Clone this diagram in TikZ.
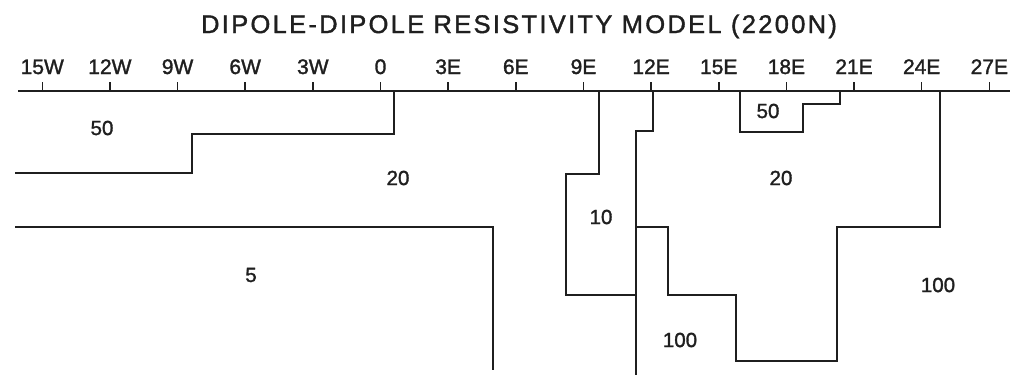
\documentclass[tikz,border=0pt]{standalone}
\usepackage{fontspec}
\setmainfont[FakeBold=1.5]{Liberation Sans}
\newfontfamily\titlefont[LetterSpace=9,FakeBold=1.5]{Liberation Sans}
\definecolor{ink}{gray}{0.12}
\begin{document}
\begin{tikzpicture}[x=1pt,y=-1pt,
  bound/.style={draw=ink, line width=1.5pt, line join=miter},
  lbl/.style={font=\fontsize{20.5}{21}\selectfont, text=ink, inner sep=0pt},
  ticklbl/.style={font=\fontsize{21}{21}\selectfont, text=ink, inner sep=0pt, anchor=base}]
\useasboundingbox (0,0) rectangle (1011,375);
\node[font=\titlefont\fontsize{25.5}{26}\selectfont, text=ink, anchor=base, inner sep=0pt] (title) at (519,33) {DIPOLE-DIPOLE RESISTIVITY MODEL (2200N)};
% axis
\coordinate (axL) at (18,91);
\coordinate (axR) at (1010,91);
\draw[bound] (axL) -- (axR);
\foreach \k/\t [count=\i] in {-15/15W,-12/12W,-9/9W,-6/6W,-3/3W,0/0,3/3E,6/6E,9/9E,12/12E,15/15E,18/18E,21/21E,24/24E,27/27E}{
  \coordinate (t\i) at ({380.5+\k*22.55},91);
  \draw[bound] (t\i) -- ++(0,-9);
  \node[ticklbl] (tl\i) at ({380.5+\k*22.55},74) {\t};
}
% boundaries
\draw[bound] (394,91) -- (394,134) -- (192,134) -- (192,173) -- (15,173);
\draw[bound] (15,227) -- (493,227) -- (493,370);
\draw[bound] (599,91) -- (599,174) -- (566,174) -- (566,295) -- (635,295);
\draw[bound] (653,91) -- (653,131) -- (636,131) -- (636,375);
\draw[bound] (636,227) -- (668,227) -- (668,295) -- (736,295) -- (736,361) -- (837,361) -- (837,227) -- (940,227) -- (940,91);
\draw[bound] (740,91) -- (740,132) -- (803,132) -- (803,104) -- (840,104) -- (840,91);
% resistivity labels
\node[lbl] (r1) at (102,128) {50};
\node[lbl] (r2) at (398,178) {20};
\node[lbl] (r3) at (251,275) {5};
\node[lbl] (r4) at (601,217) {10};
\node[lbl] (r5) at (781,178) {20};
\node[lbl] (r6) at (938,285) {100};
\node[lbl] (r7) at (680,340) {100};
\node[lbl] (r8) at (768,111) {50};
\end{tikzpicture}
\end{document}
